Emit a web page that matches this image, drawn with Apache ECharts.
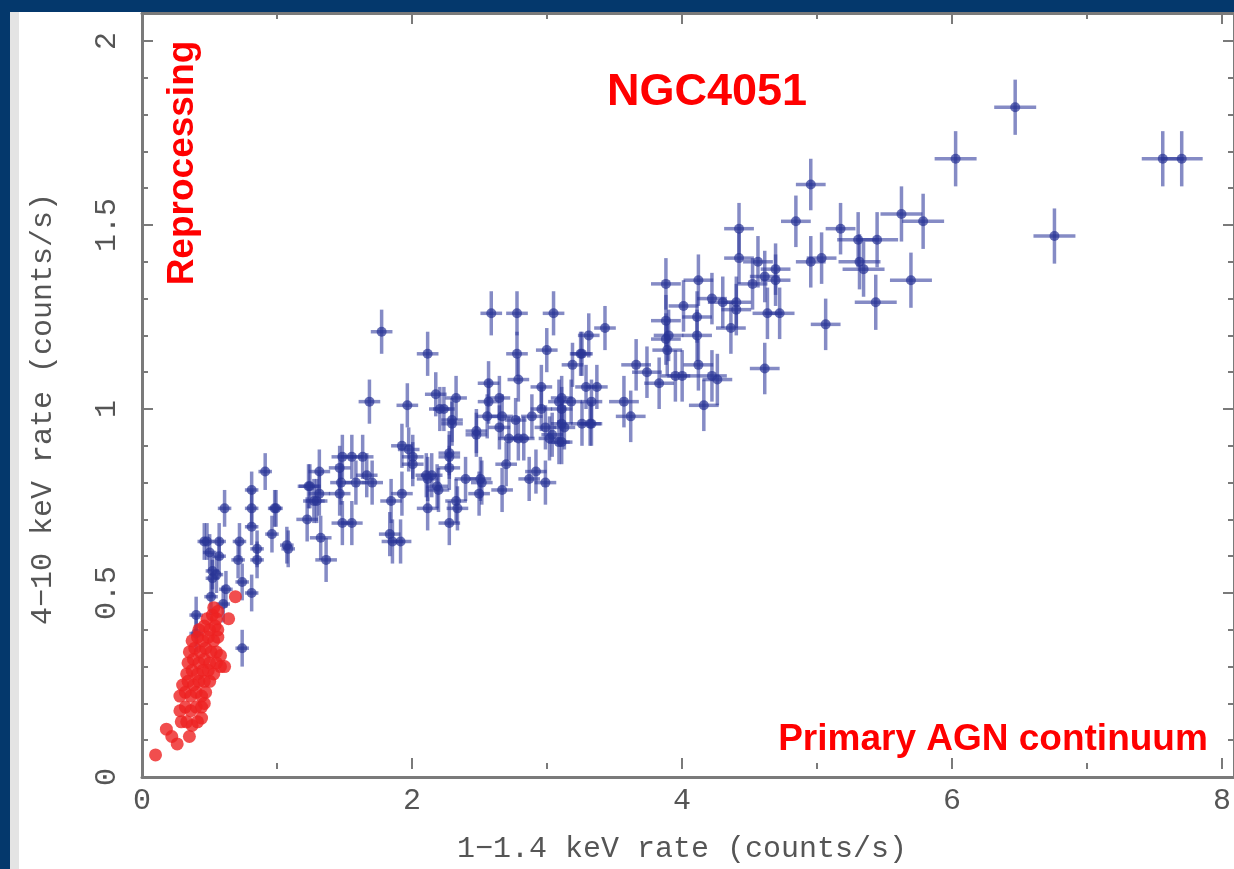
<!DOCTYPE html>
<html><head><meta charset="utf-8">
<script src="https://cdn.jsdelivr.net/npm/echarts@6/dist/echarts.min.js"></script>
<style>
html,body{margin:0;padding:0;background:#04386c;width:1234px;height:869px;overflow:hidden;}
#panel{position:absolute;left:10px;top:12px;width:1224px;height:857px;background:#e4e4e4;}
#chart{position:absolute;left:9px;top:0;width:1215px;height:857px;background:#fff;}
</style></head><body><div id="panel"><div id="chart"></div></div>
<script>
// ---- data ----
const xTitle = '1\u22121.4 keV rate (counts/s)';
const yTitle = '4\u221210 keV rate (counts/s)';
const chartTitle = 'NGC4051';
const labelReprocessing = 'Reprocessing';
const labelPrimary = 'Primary AGN continuum';

// reprocessing (red) points: [x, y]
const redPoints = [
  [0.10,0.06],[0.18,0.13],[0.22,0.11],[0.26,0.09],[0.35,0.11],
  [0.29,0.15],[0.33,0.15],[0.37,0.14],[0.41,0.15],[0.44,0.16],
  [0.28,0.18],[0.32,0.19],[0.36,0.18],[0.40,0.19],[0.44,0.19],[0.46,0.20],
  [0.28,0.22],[0.32,0.23],[0.36,0.22],[0.40,0.23],[0.44,0.22],[0.47,0.23],
  [0.30,0.25],[0.34,0.26],[0.38,0.25],[0.42,0.26],[0.46,0.26],[0.50,0.26],
  [0.33,0.28],[0.37,0.29],[0.41,0.28],[0.45,0.29],[0.49,0.29],[0.53,0.28],
  [0.34,0.31],[0.38,0.32],[0.42,0.31],[0.46,0.32],[0.50,0.31],[0.55,0.31],[0.58,0.30],[0.61,0.30],
  [0.35,0.34],[0.39,0.35],[0.43,0.34],[0.47,0.35],[0.51,0.34],[0.55,0.34],[0.58,0.33],
  [0.37,0.37],[0.41,0.38],[0.45,0.37],[0.49,0.38],[0.53,0.37],[0.56,0.38],
  [0.42,0.40],[0.46,0.41],[0.50,0.40],[0.54,0.41],[0.56,0.40],
  [0.48,0.43],[0.52,0.44],[0.55,0.43],[0.53,0.46],[0.56,0.45],
  [0.64,0.43],[0.69,0.49]
];

// primary (blue) points, grouped by error-bar size: [x, y]
const blueLow = [
  [0.91,0.83],[0.81,0.78],[0.81,0.73],[0.61,0.73],[0.98,0.73],[0.81,0.68],[0.96,0.66],
  [1.07,0.63],[0.46,0.64],[0.57,0.64],[0.72,0.64],[0.85,0.62],[1.08,0.62],[0.57,0.60],
  [0.71,0.59],[0.85,0.59],[0.52,0.56],[0.52,0.54],[0.62,0.51],[0.74,0.53],[0.81,0.50],
  [0.51,0.49],[0.60,0.47],[0.40,0.44],[0.40,0.39],[0.74,0.35],[0.99,0.73],[0.48,0.64],
  [0.55,0.55],[0.50,0.61]
];
const blueLowErr = [0.05, 0.05];

const blueMid = [
  [3.42,1.22],[3.30,1.20],[3.25,1.15],[3.18,1.12],[3.36,1.06],[3.10,1.03],[3.17,1.02],
  [3.32,1.02],[3.32,0.96],[3.10,0.96],[3.03,0.93],[3.08,0.91],[3.04,1.26],[1.77,1.21],
  [2.11,1.15],[2.58,1.26],[2.77,1.26],[2.77,1.15],[2.99,1.16],[3.24,1.15],[2.78,1.08],
  [2.56,1.07],[2.95,1.06],[3.28,1.06],[1.68,1.02],[1.96,1.01],[2.17,1.04],[2.32,1.03],
  [2.20,1.00],[2.29,0.97],[2.56,1.02],[2.64,1.03],[2.55,0.98],[2.66,0.98],[2.88,0.98],
  [2.95,1.00],[3.08,1.02],[3.12,0.95],[3.25,0.96],[2.47,0.94],[2.71,0.92],[2.82,0.92],
  [3.01,0.92],[1.92,0.90],[2.00,0.87],[2.00,0.85],[2.14,0.82],[2.27,0.87],[2.27,0.84],
  [2.69,0.85],[2.91,0.83],[2.98,0.80],[2.86,0.81],[2.51,0.80],[2.66,0.78],[2.10,0.82],
  [2.18,0.79],[2.32,0.75],[2.11,0.73],[2.27,0.69],[1.84,0.75],[1.92,0.77],[1.48,0.87],
  [1.55,0.87],[1.63,0.87],[1.66,0.82],[1.70,0.80],[1.58,0.80],[1.46,0.84],[1.24,0.79],
  [1.31,0.83],[1.27,0.75],[1.31,0.77],[1.46,0.77],[1.22,0.70],[1.32,0.65],[1.48,0.69],
  [1.55,0.69],[1.83,0.66],[1.85,0.64],[1.36,0.59],[2.23,1.00],[2.29,0.96],[2.47,0.93],
  [2.64,0.95],[2.76,0.97],[2.78,0.92],[2.98,0.95],[3.10,1.00],[3.10,0.91],[3.31,0.96],
  [1.97,0.89],[2.39,0.81],[2.50,0.81],[2.49,0.77],[2.33,0.73],[2.11,0.81],[2.19,0.78],
  [2.27,0.88],[1.23,0.79],[1.29,0.75],[1.47,0.80],[1.91,0.64]
];
const blueMidErr = [0.08, 0.06];

const blueHigh = [
  [4.94,1.61],[4.41,1.49],[4.83,1.51],[5.16,1.49],[4.41,1.41],[4.55,1.40],[4.68,1.38],
  [4.94,1.40],[5.02,1.41],[4.60,1.36],[4.51,1.34],[4.68,1.35],[3.87,1.34],[4.11,1.35],
  [4.21,1.30],[4.29,1.29],[4.39,1.29],[4.00,1.28],[4.39,1.27],[4.62,1.26],[4.71,1.26],
  [5.05,1.23],[4.10,1.25],[3.87,1.24],[3.89,1.20],[4.10,1.20],[4.35,1.22],[3.87,1.19],
  [3.88,1.16],[3.65,1.12],[3.73,1.10],[3.82,1.07],[3.94,1.09],[3.99,1.09],[4.11,1.12],
  [4.21,1.09],[4.25,1.08],[4.60,1.11],[4.15,1.01],[3.61,0.98],[3.56,1.02]
];
const blueHighErr = [0.11, 0.07];

const blueTop = [
  [6.45,1.82],[6.01,1.68],[7.54,1.68],[7.68,1.68],[6.74,1.47],[5.61,1.53],[5.77,1.51],
  [5.29,1.46],[5.43,1.46],[5.30,1.40],[5.33,1.38],[5.68,1.35],[5.42,1.29]
];
const blueTopErr = [0.155, 0.075];

const xMin = 0, xMax = 8, xInterval = 2;
const yMin = 0, yMax = 2, yInterval = 0.5;

// ---- layout (chart div is at page x=19, y=12, size 1215x857) ----
const W = 1215, H = 857;
const frame = {left: 123, right: -3, top: 1, bottom: 92};
const xTickRight = 6;
const yTickTop = 29;
const plotW = W - frame.left - frame.right, tickW = W - frame.left - xTickRight;
const plotH = H - frame.top - frame.bottom, tickH = H - frame.bottom - yTickTop;
const xFrameMax = xMax * plotW / tickW;
const yFrameMax = yMax * plotH / tickH;

const FONT = '"Liberation Mono","DejaVu Sans Mono",monospace';
const AX = '#7a7a7a', TXT = '#555555';
const BAR = 'rgba(45,55,155,0.58)', DOT = 'rgba(42,52,150,0.88)';

const chart = echarts.init(document.getElementById('chart'), null, {renderer: 'canvas'});

function errSeries(data, err) {
  return {
    type: 'custom', xAxisIndex: 0, yAxisIndex: 0, data: data, z: 2, silent: true,
    renderItem: function (params, api) {
      const x = api.value(0), y = api.value(1);
      const l = api.coord([x - err[0], y]), r = api.coord([x + err[0], y]);
      const b = api.coord([x, y - err[1]]), t = api.coord([x, y + err[1]]);
      return {type: 'group', children: [
        {type: 'line', shape: {x1: l[0], y1: l[1], x2: r[0], y2: r[1]}, style: {stroke: BAR, lineWidth: 3.5}},
        {type: 'line', shape: {x1: b[0], y1: b[1], x2: t[0], y2: t[1]}, style: {stroke: BAR, lineWidth: 3.5}}
      ]};
    }
  };
}

const tickStyle = {show: true, inside: true, length: 11, lineStyle: {color: AX, width: 2}};
const minorStyle = (n) => ({show: true, splitNumber: n, length: 6, lineStyle: {color: AX, width: 2}});
const frameLine = {show: true, onZero: false, lineStyle: {color: AX, width: 3}};

const option = {
  animation: false,
  grid: [
    {left: frame.left, right: frame.right, top: frame.top, bottom: frame.bottom},
    {left: frame.left, right: frame.right, top: yTickTop, bottom: frame.bottom},
    {left: frame.left, right: xTickRight, top: frame.top, bottom: frame.bottom}
  ],
  xAxis: [
    {gridIndex: 0, type: 'value', position: 'bottom', min: xMin, max: xFrameMax,
     axisLine: frameLine, axisTick: {show: false}, axisLabel: {show: false}, splitLine: {show: false}},
    {gridIndex: 0, type: 'value', position: 'top', min: xMin, max: xFrameMax,
     axisLine: frameLine, axisTick: {show: false}, axisLabel: {show: false}, splitLine: {show: false}},
    {gridIndex: 1, type: 'value', min: xMin, max: xMax, show: false},
    {gridIndex: 2, type: 'value', position: 'bottom', min: xMin, max: xMax, interval: xInterval,
     axisLine: {show: false}, axisTick: tickStyle, minorTick: minorStyle(2), splitLine: {show: false},
     axisLabel: {show: true, margin: 17, fontSize: 30, fontFamily: FONT, color: TXT},
     name: xTitle, nameLocation: 'middle', nameGap: 65,
     nameTextStyle: {fontSize: 30, fontFamily: FONT, color: TXT}},
    {gridIndex: 2, type: 'value', position: 'top', min: xMin, max: xMax, interval: xInterval,
     axisLine: {show: false}, axisTick: tickStyle, minorTick: minorStyle(2), splitLine: {show: false},
     axisLabel: {show: false}}
  ],
  yAxis: [
    {gridIndex: 0, type: 'value', position: 'left', min: yMin, max: yFrameMax,
     axisLine: frameLine, axisTick: {show: false}, axisLabel: {show: false}, splitLine: {show: false}},
    {gridIndex: 0, type: 'value', position: 'right', min: yMin, max: yFrameMax,
     axisLine: frameLine, axisTick: {show: false}, axisLabel: {show: false}, splitLine: {show: false}},
    {gridIndex: 1, type: 'value', position: 'left', min: yMin, max: yMax, interval: yInterval,
     axisLine: {show: false}, axisTick: tickStyle, minorTick: minorStyle(5), splitLine: {show: false},
     axisLabel: {show: true, rotate: 90, margin: 20, fontSize: 30, fontFamily: FONT, color: TXT},
     name: yTitle, nameLocation: 'middle', nameGap: 84, nameRotate: 90,
     nameTextStyle: {fontSize: 30, fontFamily: FONT, color: TXT}},
    {gridIndex: 1, type: 'value', position: 'right', min: yMin, max: yMax, interval: yInterval,
     axisLine: {show: false}, axisTick: tickStyle, minorTick: minorStyle(5), splitLine: {show: false},
     axisLabel: {show: false}},
    {gridIndex: 2, type: 'value', min: yMin, max: yFrameMax, show: false}
  ],
  series: [
    errSeries(blueLow, blueLowErr),
    errSeries(blueMid, blueMidErr),
    errSeries(blueHigh, blueHighErr),
    errSeries(blueTop, blueTopErr),
    {type: 'scatter', xAxisIndex: 0, yAxisIndex: 0, z: 3, symbol: 'circle', symbolSize: 10,
     itemStyle: {color: DOT}, data: [].concat(blueLow, blueMid, blueHigh, blueTop)},
    {type: 'scatter', xAxisIndex: 0, yAxisIndex: 0, z: 4, symbol: 'circle', symbolSize: 13,
     itemStyle: {color: '#ee2222'}, data: redPoints}
  ],
  graphic: [
    {type: 'text', x: 688, y: 81, style: {text: chartTitle, fill: '#ff0000',
      font: 'bold 45px "Liberation Sans", Arial, sans-serif', align: 'center', verticalAlign: 'middle'}},
    {type: 'text', x: 164, y: 151, rotation: Math.PI / 2, style: {text: labelReprocessing, fill: '#ff0000',
      font: 'bold 37px "Liberation Sans", Arial, sans-serif', align: 'center', verticalAlign: 'middle'}},
    {type: 'text', x: 974, y: 728, style: {text: labelPrimary, fill: '#ff0000',
      font: 'bold 37px "Liberation Sans", Arial, sans-serif', align: 'center', verticalAlign: 'middle'}}
  ]
};
chart.setOption(option);
</script></body></html>
